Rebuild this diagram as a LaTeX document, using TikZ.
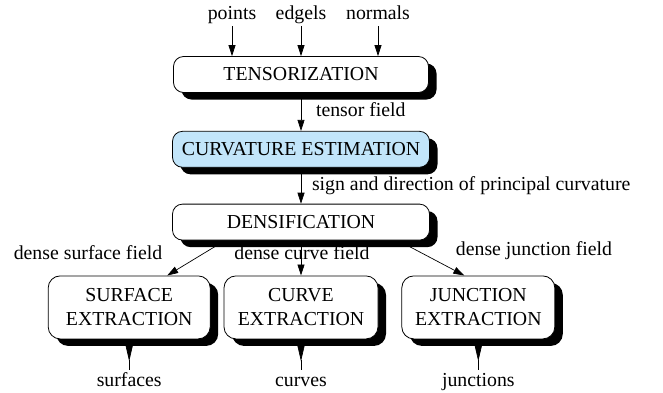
\documentclass[tikz,border=0pt]{standalone}
\usepackage{fontspec}
\setmainfont{Liberation Serif}
\usetikzlibrary{arrows.meta,positioning,shadows,backgrounds}
\definecolor{PaleBlue}{HTML}{C2E5FA}
\tikzset{
  % Base box
  PB/.style={rectangle,rounded corners=10pt,draw,line width=0.8pt,fill=white,
             minimum height=36pt,text centered,align=center,
             font=\fontsize{19.8}{24}\selectfont,
             drop shadow={shadow xshift=8pt,shadow yshift=-7pt,fill=black,opacity=1}},
  % Two-line extraction box
  XB/.style={PB,minimum height=63pt,rounded corners=12pt},
  % Arrows
  arr/.style={-{Triangle[length=11pt,width=7pt]},line width=0.7pt},
  tail/.style={{Triangle[reversed,length=22pt,width=10pt]}-,line width=0.7pt},
  % Label text
  LB/.style={font=\fontsize{19.8}{24}\selectfont,inner sep=0pt,outer sep=3pt,
             text height=13pt,text depth=4pt}
}

\begin{document}
\begin{tikzpicture}[x=1pt,y=1pt]
  \useasboundingbox (0,0) rectangle (663,-392);

  \node[PB,minimum width=255pt] (tens) at (301,-74.5) {TENSORIZATION};
  \node[PB,minimum width=257pt,fill=PaleBlue,below=38pt of tens] (curv) {CURVATURE ESTIMATION};
  \node[PB,minimum width=257pt,below=36pt of curv] (dens) {DENSIFICATION};
  \node[XB,minimum width=154pt,below=35pt of dens] (curvx) {CURVE\\EXTRACTION};
  \node[XB,minimum width=162pt,left=13pt of curvx] (surf) {SURFACE\\EXTRACTION};
  \node[XB,minimum width=153pt,right=23pt of curvx] (junc) {JUNCTION\\EXTRACTION};

  % inputs
  \node[LB,above=30pt of tens.north] (edg) {edgels};
  \node[LB,above=30pt of tens.north,xshift=-69pt] (pts) {points};
  \node[LB,above=30pt of tens.north,xshift=77pt] (nrm) {normals};

  % field labels
  \node[LB] (dsf) at (88,-254.5) {dense surface field};
  \node[LB] (dcf) at (302,-254.5) {dense curve field};
  \node[LB] (djf) at (534,-250.5) {dense junction field};

  % outputs
  \node[LB,below=31pt of surf] (sfs) {surfaces};
  \node[LB,below=31pt of curvx] (cvs) {curves};
  \node[LB,below=31pt of junc] (jns) {junctions};

  \begin{scope}[on background layer]
    \draw[arr] (pts) -- (pts |- tens.north);
    \draw[arr] (edg) -- (edg |- tens.north);
    \draw[arr] (nrm) -- (nrm |- tens.north);
    \draw[arr] (tens) -- node[LB,right=12pt] (tf) {tensor field} (curv);
    \draw[arr] (curv) -- node[LB,right=8pt] (sd) {sign and direction of principal curvature} (dens);
    \draw[arr] ([xshift=-76pt]dens.south) -- ([xshift=38pt]surf.north);
    \draw[arr] (dens.south) -- (dens.south |- curvx.north);
    \draw[arr] ([xshift=97pt]dens.south) -- ([xshift=-14pt]junc.north);
    \draw[tail] (surf.south) -- (sfs.north);
    \draw[tail] (curvx.south) -- (cvs.north);
    \draw[tail] (junc.south) -- (jns.north);
  \end{scope}
\end{tikzpicture}
\end{document}
